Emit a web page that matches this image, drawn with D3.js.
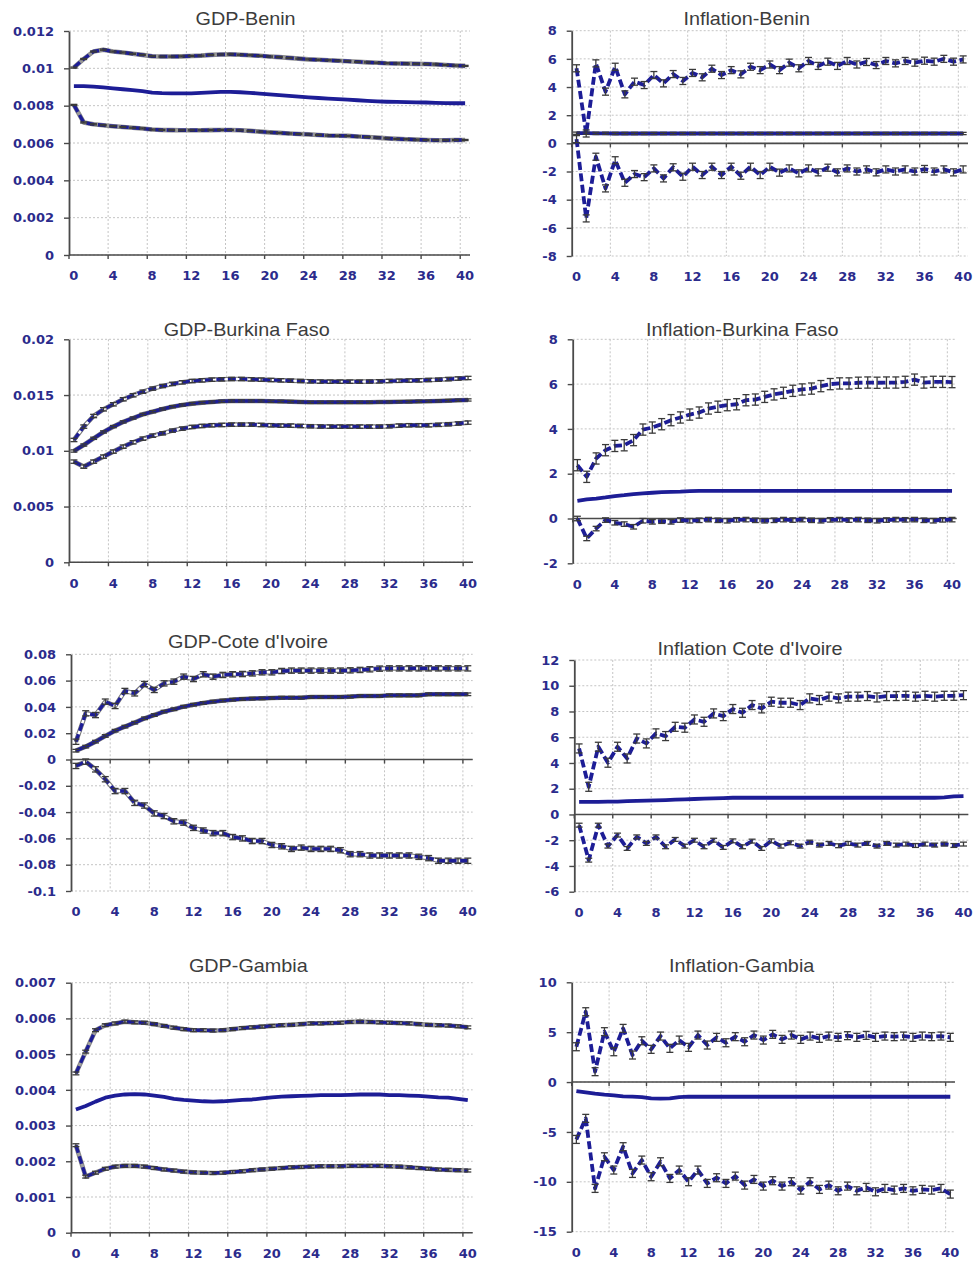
<!DOCTYPE html>
<html>
<head>
<meta charset="utf-8">
<script src="https://cdn.jsdelivr.net/npm/d3@7"></script>
<style>
  body { margin: 0; background: #ffffff; }
  svg { display: block; }
</style>
</head>
<body>
<svg id="chart" width="979" height="1262"></svg>
<script>
// Impulse responses over a 40-period horizon: upper band, point response, lower band.
const horizons = d3.range(0, 41);
const xTickLabels = [0, 4, 8, 12, 16, 20, 24, 28, 32, 36, 40];

// ---- GDP - Benin ----
const gdpBeninTicks = [0, 0.002, 0.004, 0.006, 0.008, 0.01, 0.012];
const gdpBeninUpper = [0.01004,0.01050,0.01090,0.01100,0.01090,0.01085,0.01078,0.01072,0.01065,0.01063,
  0.01063,0.01064,0.01066,0.01068,0.01072,0.01074,0.01075,0.01073,0.01070,0.01067,
  0.01063,0.01060,0.01056,0.01052,0.01048,0.01046,0.01043,0.01041,0.01038,0.01035,
  0.01032,0.01030,0.01027,0.01026,0.01025,0.01024,0.01023,0.01021,0.01018,0.01015,0.01013];
const gdpBeninMid = [0.00905,0.00905,0.00902,0.00898,0.00893,0.00888,0.00883,0.00878,0.00870,0.00867,
  0.00866,0.00866,0.00866,0.00868,0.00871,0.00874,0.00874,0.00872,0.00869,0.00865,
  0.00860,0.00856,0.00852,0.00848,0.00844,0.00841,0.00838,0.00835,0.00832,0.00829,
  0.00826,0.00823,0.00821,0.00820,0.00819,0.00818,0.00817,0.00815,0.00814,0.00813,0.00813];
const gdpBeninLower = [0.00804,0.00710,0.00700,0.00695,0.00690,0.00686,0.00682,0.00678,0.00672,0.00670,
  0.00669,0.00668,0.00668,0.00668,0.00669,0.00670,0.00670,0.00668,0.00665,0.00661,
  0.00657,0.00654,0.00651,0.00648,0.00646,0.00643,0.00640,0.00639,0.00638,0.00635,
  0.00632,0.00629,0.00625,0.00622,0.00620,0.00618,0.00616,0.00615,0.00615,0.00616,0.00616];
const gdpBeninErr = [0.00003, 0, 0.00003];

// ---- Inflation - Benin ----
const infBeninTicks = [-8, -6, -4, -2, 0, 2, 4, 6, 8];
const infBeninUpper = [5.33,0.7,5.68,3.67,5.44,3.48,4.38,4.14,4.85,4.26,
  4.92,4.43,5.0,4.69,5.3,4.85,5.2,4.9,5.44,5.2,
  5.6,5.2,5.73,5.33,5.85,5.5,5.8,5.5,5.85,5.6,
  5.78,5.56,5.85,5.68,5.85,5.73,5.87,5.8,6.0,5.8,5.96];
const infBeninMid = [0.72,0.72,0.71,0.71,0.70,0.70,0.70,0.70,0.70,0.70,
  0.70,0.70,0.70,0.70,0.70,0.70,0.70,0.70,0.70,0.70,
  0.70,0.70,0.70,0.70,0.70,0.70,0.70,0.70,0.70,0.70,
  0.70,0.70,0.70,0.70,0.70,0.70,0.70,0.70,0.70,0.70,0.70];
const infBeninLower = [0.3,-5.33,-0.95,-3.2,-1.2,-2.8,-2.18,-2.4,-1.78,-2.49,
  -1.7,-2.37,-1.66,-2.25,-1.66,-2.25,-1.66,-2.3,-1.66,-2.25,
  -1.66,-2.08,-1.78,-2.13,-1.78,-2.06,-1.73,-2.06,-1.78,-2.0,
  -1.85,-2.06,-1.85,-2.0,-1.85,-2.0,-1.82,-2.0,-1.85,-2.06,-1.85];
const infBeninErr = [0.25, 0.08, 0.25];

// ---- GDP - Burkina Faso ----
const gdpBurkinaTicks = [0, 0.005, 0.01, 0.015, 0.02];
const gdpBurkinaUpper = [0.01097,0.01217,0.01312,0.01372,0.01417,0.01462,0.01498,0.01530,0.01558,0.01581,
  0.01600,0.01614,0.01626,0.01632,0.01638,0.01641,0.01644,0.01644,0.01641,0.01638,
  0.01635,0.01632,0.01629,0.01626,0.01623,0.01621,0.01620,0.01620,0.01620,0.01620,
  0.01621,0.01623,0.01626,0.01628,0.01630,0.01632,0.01635,0.01638,0.01643,0.01648,0.01653];
const gdpBurkinaMid = [0.00998,0.01052,0.01112,0.01169,0.01217,0.01259,0.01294,0.01327,0.01351,0.01375,
  0.01396,0.01411,0.01423,0.01432,0.01438,0.01444,0.01447,0.01447,0.01447,0.01447,
  0.01444,0.01443,0.01441,0.01438,0.01435,0.01435,0.01435,0.01435,0.01435,0.01435,
  0.01435,0.01437,0.01438,0.01440,0.01441,0.01443,0.01444,0.01447,0.01450,0.01453,0.01456];
const gdpBurkinaLower = [0.00903,0.00858,0.00903,0.00948,0.00993,0.01037,0.01076,0.01109,0.01136,0.01157,
  0.01181,0.01199,0.01214,0.01223,0.01229,0.01232,0.01235,0.01235,0.01235,0.01232,
  0.01229,0.01226,0.01226,0.01223,0.01220,0.01218,0.01217,0.01217,0.01217,0.01217,
  0.01217,0.01217,0.01220,0.01226,0.01229,0.01229,0.01229,0.01233,0.01238,0.01245,0.01253];
const gdpBurkinaErr = [0.00015, 0.0001, 0.00015];

// ---- Inflation - Burkina Faso ----
const infBurkinaTicks = [-2, 0, 2, 4, 6, 8];
const infBurkinaUpper = [2.38,1.86,2.68,3.05,3.24,3.27,3.5,3.97,4.06,4.21,
  4.39,4.51,4.64,4.73,4.91,4.99,5.06,5.1,5.28,5.31,
  5.43,5.54,5.61,5.7,5.76,5.8,5.91,6.0,6.03,6.03,
  6.06,6.07,6.06,6.07,6.07,6.1,6.2,6.07,6.1,6.1,6.09];
const infBurkinaMid = [0.79,0.85,0.89,0.94,1.0,1.04,1.09,1.12,1.15,1.18,
  1.19,1.2,1.22,1.23,1.23,1.23,1.23,1.23,1.23,1.23,
  1.23,1.23,1.23,1.23,1.23,1.23,1.23,1.23,1.23,1.23,
  1.23,1.23,1.23,1.23,1.23,1.23,1.23,1.23,1.23,1.23,1.23];
const infBurkinaLower = [0.0,-0.89,-0.45,-0.07,-0.19,-0.25,-0.37,-0.1,-0.15,-0.12,
  -0.15,-0.07,-0.1,-0.08,-0.05,-0.08,-0.1,-0.06,-0.05,-0.08,
  -0.1,-0.08,-0.05,-0.07,-0.05,-0.08,-0.1,-0.06,-0.05,-0.07,
  -0.05,-0.08,-0.1,-0.07,-0.05,-0.06,-0.05,-0.08,-0.1,-0.06,-0.05];
const infBurkinaErr = [0.25, 0, 0.1];

// ---- GDP - Cote d'Ivoire ----
const gdpCoteTicks = [-0.1, -0.08, -0.06, -0.04, -0.02, 0, 0.02, 0.04, 0.06, 0.08];
const gdpCoteUpper = [0.0135,0.0351,0.0338,0.0440,0.0407,0.0521,0.0503,0.0574,0.0529,0.0579,
  0.0592,0.0630,0.0612,0.0648,0.0630,0.0643,0.0648,0.0650,0.0655,0.0663,
  0.0663,0.0673,0.0676,0.0676,0.0676,0.0676,0.0676,0.0676,0.0678,0.0681,
  0.0686,0.0691,0.0693,0.0693,0.0693,0.0693,0.0693,0.0693,0.0693,0.0693,0.0693];
const gdpCoteMid = [0.0067,0.0098,0.0136,0.0179,0.0219,0.0250,0.0280,0.0313,0.0338,0.0364,
  0.0382,0.0402,0.0417,0.0430,0.0440,0.0448,0.0455,0.0460,0.0463,0.0465,
  0.0468,0.0470,0.0470,0.0470,0.0475,0.0475,0.0475,0.0475,0.0478,0.0483,
  0.0483,0.0483,0.0488,0.0488,0.0488,0.0488,0.0496,0.0496,0.0496,0.0496,0.0496];
const gdpCoteLower = [-0.0049,-0.0016,-0.0075,-0.015,-0.024,-0.024,-0.033,-0.035,-0.041,-0.043,
  -0.047,-0.048,-0.052,-0.054,-0.056,-0.056,-0.059,-0.060,-0.062,-0.062,
  -0.065,-0.066,-0.068,-0.067,-0.068,-0.068,-0.068,-0.069,-0.072,-0.072,
  -0.073,-0.073,-0.073,-0.073,-0.073,-0.074,-0.075,-0.077,-0.077,-0.077,-0.077];
const gdpCoteErr = [0.002, 0.001, 0.002];

// ---- Inflation - Cote d'Ivoire ----
const infCoteTicks = [-6, -4, -2, 0, 2, 4, 6, 8, 10, 12];
const infCoteUpper = [5.13,2.15,5.26,4.02,5.26,4.35,5.9,5.52,6.3,6.09,
  6.81,6.74,7.38,7.2,7.85,7.64,8.19,7.9,8.5,8.24,
  8.76,8.68,8.68,8.5,9.02,8.89,9.15,9.02,9.15,9.15,
  9.2,9.09,9.2,9.2,9.22,9.15,9.22,9.15,9.22,9.22,9.27];
const infCoteMid = [0.98,0.98,0.98,0.99,1.0,1.03,1.05,1.07,1.1,1.12,
  1.15,1.17,1.2,1.23,1.25,1.27,1.3,1.3,1.3,1.3,
  1.3,1.3,1.3,1.3,1.3,1.3,1.3,1.3,1.3,1.3,
  1.3,1.3,1.3,1.3,1.3,1.3,1.3,1.3,1.32,1.4,1.42];
const infCoteLower = [-0.83,-3.55,-0.83,-2.46,-1.6,-2.64,-1.74,-2.25,-1.74,-2.51,
  -1.94,-2.46,-2.0,-2.51,-2.0,-2.56,-2.05,-2.51,-2.07,-2.64,
  -2.05,-2.46,-2.2,-2.46,-2.15,-2.38,-2.25,-2.43,-2.25,-2.38,
  -2.25,-2.46,-2.25,-2.38,-2.3,-2.41,-2.3,-2.38,-2.3,-2.41,-2.3];
const infCoteErr = [0.35, 0, 0.15];

// ---- GDP - Gambia ----
const gdpGambiaTicks = [0, 0.001, 0.002, 0.003, 0.004, 0.005, 0.006, 0.007];
const gdpGambiaUpper = [0.00446,0.00507,0.00567,0.00581,0.00586,0.00591,0.00589,0.00588,0.00584,0.00579,
  0.00574,0.00570,0.00567,0.00567,0.00566,0.00567,0.00570,0.00573,0.00575,0.00577,
  0.00579,0.00581,0.00582,0.00584,0.00586,0.00586,0.00587,0.00588,0.00590,0.00591,
  0.00590,0.00589,0.00588,0.00587,0.00586,0.00584,0.00582,0.00581,0.00580,0.00578,0.00575];
const gdpGambiaMid = [0.00345,0.00355,0.00367,0.00378,0.00384,0.00387,0.00388,0.00387,0.00384,0.00380,
  0.00375,0.00372,0.00370,0.00368,0.00367,0.00368,0.00370,0.00372,0.00373,0.00376,
  0.00379,0.00381,0.00382,0.00383,0.00384,0.00385,0.00385,0.00385,0.00386,0.00387,
  0.00387,0.00387,0.00385,0.00385,0.00384,0.00383,0.00381,0.00379,0.00378,0.00375,0.00371];
const gdpGambiaLower = [0.00245,0.00157,0.00168,0.00179,0.00185,0.00187,0.00187,0.00185,0.00181,0.00177,
  0.00174,0.00171,0.00169,0.00168,0.00167,0.00168,0.00170,0.00172,0.00175,0.00177,
  0.00179,0.00181,0.00183,0.00184,0.00185,0.00186,0.00186,0.00186,0.00187,0.00187,
  0.00187,0.00187,0.00186,0.00185,0.00183,0.00181,0.00179,0.00177,0.00176,0.00175,0.00174];
const gdpGambiaErr = [0.00004, 0, 0.00004];

// ---- Inflation - Gambia ----
const infGambiaTicks = [-15, -10, -5, 0, 5, 10];
const infGambiaUpper = [3.54,7.05,1.04,5.05,3.04,5.38,2.71,4.14,3.28,4.61,
  3.38,4.21,3.48,4.71,3.71,4.48,3.94,4.55,4.04,4.71,
  4.21,4.78,4.28,4.71,4.28,4.61,4.38,4.61,4.48,4.65,
  4.48,4.68,4.48,4.61,4.55,4.61,4.48,4.61,4.55,4.61,4.48];
const infGambiaMid = [-0.9,-1.04,-1.17,-1.27,-1.34,-1.44,-1.47,-1.5,-1.64,-1.67,
  -1.64,-1.5,-1.47,-1.47,-1.47,-1.47,-1.47,-1.47,-1.47,-1.47,
  -1.47,-1.47,-1.47,-1.47,-1.47,-1.47,-1.47,-1.47,-1.47,-1.47,
  -1.47,-1.47,-1.47,-1.47,-1.47,-1.47,-1.47,-1.47,-1.47,-1.47,-1.47];
const infGambiaLower = [-5.75,-3.64,-10.66,-7.49,-8.82,-6.48,-9.16,-7.82,-9.49,-7.99,
  -9.66,-8.82,-9.99,-8.82,-10.16,-9.59,-10.16,-9.43,-10.33,-9.76,
  -10.43,-9.89,-10.43,-9.99,-10.83,-9.99,-10.76,-10.33,-10.9,-10.43,
  -10.9,-10.56,-11.0,-10.66,-10.83,-10.66,-10.9,-10.76,-10.83,-10.66,-11.23];
const infGambiaErr = [0.4, 0, 0.4];

// Panel layout: plot box, title anchor, and line style
// outline: casing colour under the band lines (null = none); gap: colour between dashes;
// midOutline: whether the point-response line also gets the casing
const panels = [
  { title: "GDP-Benin", ticks: gdpBeninTicks, series: [gdpBeninUpper, gdpBeninMid, gdpBeninLower], err: gdpBeninErr,
    x0: 69, x1: 470, top: 31, bottom: 255, tx: 245.6, ty: 25, outline: "#8a8a8a", gap: "#9a9a9a", midOutline: false },
  { title: "Inflation-Benin", ticks: infBeninTicks, series: [infBeninUpper, infBeninMid, infBeninLower], err: infBeninErr,
    x0: 571.7, x1: 968, top: 30.7, bottom: 256, tx: 746.7, ty: 24.5, outline: null, gap: null, midOutline: false },
  { title: "GDP-Burkina Faso", ticks: gdpBurkinaTicks, series: [gdpBurkinaUpper, gdpBurkinaMid, gdpBurkinaLower], err: gdpBurkinaErr,
    x0: 69, x1: 473, top: 339.3, bottom: 562.3, tx: 246.7, ty: 335.5, outline: "#7a7a7a", gap: "#ffffff", midOutline: true },
  { title: "Inflation-Burkina Faso", ticks: infBurkinaTicks, series: [infBurkinaUpper, infBurkinaMid, infBurkinaLower], err: infBurkinaErr,
    x0: 572.7, x1: 956.7, top: 339.3, bottom: 563.3, tx: 742.3, ty: 335.5, outline: null, gap: null, midOutline: false },
  { title: "GDP-Cote d'Ivoire", ticks: gdpCoteTicks, series: [gdpCoteUpper, gdpCoteMid, gdpCoteLower], err: gdpCoteErr,
    x0: 71, x1: 472.7, top: 654.3, bottom: 891, tx: 248, ty: 648, outline: "#7a7a7a", gap: "#ffffff", midOutline: true },
  { title: "Inflation Cote d'Ivoire", ticks: infCoteTicks, series: [infCoteUpper, infCoteMid, infCoteLower], err: infCoteErr,
    x0: 574.3, x1: 968.3, top: 660, bottom: 891.7, tx: 750, ty: 655, outline: null, gap: null, midOutline: false },
  { title: "GDP-Gambia", ticks: gdpGambiaTicks, series: [gdpGambiaUpper, gdpGambiaMid, gdpGambiaLower], err: gdpGambiaErr,
    x0: 71, x1: 472.7, top: 982.7, bottom: 1232.7, tx: 248.3, ty: 972, outline: "#8a8a8a", gap: "#a0a0a0", midOutline: false },
  { title: "Inflation-Gambia", ticks: infGambiaTicks, series: [infGambiaUpper, infGambiaMid, infGambiaLower], err: infGambiaErr,
    x0: 571.7, x1: 955, top: 982.3, bottom: 1231.7, tx: 741.7, ty: 972, outline: null, gap: null, midOutline: false }
];

const NAVY = "#1d1d96";
const LABEL = "#2b2b8c";
const svg = d3.select("#chart");

panels.forEach(p => {
  const g = svg.append("g");
  const ticks = p.ticks;
  const y = d3.scaleLinear().domain([ticks[0], ticks[ticks.length - 1]]).range([p.bottom, p.top]);
  const x = d3.scaleBand().domain(horizons).range([p.x0, p.x1]).paddingInner(0).paddingOuter(0);
  const bw = x.bandwidth();
  const cx = t => x(t) + bw / 2;

  // dotted grid
  g.append("g").selectAll("line").data(ticks).join("line")
    .attr("x1", p.x0).attr("x2", p.x1)
    .attr("y1", d => y(d)).attr("y2", d => y(d))
    .attr("stroke", "#c4c4c4").attr("stroke-width", 1).attr("stroke-dasharray", "2,2");
  g.append("g").selectAll("line").data(xTickLabels.filter(k => k > 0)).join("line")
    .attr("x1", d => x(d)).attr("x2", d => x(d))
    .attr("y1", p.top).attr("y2", p.bottom)
    .attr("stroke", "#c4c4c4").attr("stroke-width", 1).attr("stroke-dasharray", "2,2");

  // category axis line at zero with tick marks
  const zeroY = y(0);
  g.append("line").attr("x1", p.x0).attr("x2", p.x1).attr("y1", zeroY).attr("y2", zeroY)
    .attr("stroke", "#4a4a4a").attr("stroke-width", 1.6);
  g.append("g").selectAll("line").data(xTickLabels).join("line")
    .attr("x1", d => x(d)).attr("x2", d => x(d))
    .attr("y1", zeroY).attr("y2", zeroY + 4)
    .attr("stroke", "#4a4a4a").attr("stroke-width", 1.4);

  // category labels along the bottom of the plot
  const xAxis = g.append("g").attr("transform", `translate(0,${p.bottom})`)
    .call(d3.axisBottom(x).tickValues(xTickLabels).tickSize(0).tickPadding(16));
  xAxis.select(".domain").remove();
  xAxis.selectAll("text")
    .attr("font-family", "'DejaVu Sans', Verdana, sans-serif")
    .attr("font-weight", "bold").attr("font-size", 13).attr("fill", LABEL);

  // value axis
  const yAxis = g.append("g").attr("transform", `translate(${p.x0},0)`)
    .call(d3.axisLeft(y).tickValues(ticks).tickSize(5).tickSizeOuter(0).tickPadding(10)
      .tickFormat(d => String(d)));
  yAxis.select(".domain").attr("stroke", "#4a4a4a").attr("stroke-width", 1.8);
  yAxis.selectAll(".tick line").attr("stroke", "#4a4a4a").attr("stroke-width", 1.4);
  yAxis.selectAll("text")
    .attr("font-family", "'DejaVu Sans', Verdana, sans-serif")
    .attr("font-weight", "bold").attr("font-size", 13).attr("fill", LABEL);

  // response lines
  const line = d3.line().x((d, i) => cx(horizons[i])).y(d => y(d));
  p.series.forEach((s, si) => {
    const dashed = si !== 1;
    const cased = p.outline && (dashed || p.midOutline);
    if (cased) {
      g.append("path").attr("d", line(s)).attr("fill", "none")
        .attr("stroke", p.outline).attr("stroke-width", 4.6).attr("stroke-linejoin", "round");
      if (dashed) {
        g.append("path").attr("d", line(s)).attr("fill", "none")
          .attr("stroke", p.gap).attr("stroke-width", 2.4).attr("stroke-linejoin", "round");
      }
    }
    g.append("path").attr("d", line(s)).attr("fill", "none")
      .attr("stroke", NAVY).attr("stroke-width", cased ? 3.4 : 3.8)
      .attr("stroke-dasharray", dashed ? "8,3.5" : null)
      .attr("stroke-linejoin", "round");
  });

  // error bars on each horizon
  p.series.forEach((s, si) => {
    const e = p.err[si];
    if (!e) return;
    const eg = g.append("g").attr("stroke", "#3a3a3a").attr("stroke-width", 1.3);
    eg.selectAll("line.v").data(s).join("line").attr("class", "v")
      .attr("x1", (d, i) => cx(horizons[i])).attr("x2", (d, i) => cx(horizons[i]))
      .attr("y1", d => y(d - e)).attr("y2", d => y(d + e));
    eg.selectAll("line.t").data(s).join("line").attr("class", "t")
      .attr("x1", (d, i) => cx(horizons[i]) - 3.5).attr("x2", (d, i) => cx(horizons[i]) + 3.5)
      .attr("y1", d => y(d + e)).attr("y2", d => y(d + e));
    eg.selectAll("line.b").data(s).join("line").attr("class", "b")
      .attr("x1", (d, i) => cx(horizons[i]) - 3.5).attr("x2", (d, i) => cx(horizons[i]) + 3.5)
      .attr("y1", d => y(d - e)).attr("y2", d => y(d - e));
  });

  // panel title
  g.append("text")
    .attr("transform", `translate(${p.tx},${p.ty}) scale(1.1,1)`)
    .attr("text-anchor", "middle")
    .attr("font-family", "'Liberation Sans', Arial, sans-serif")
    .attr("font-size", 18).attr("fill", "#3c3c3c")
    .text(p.title);
});
</script>
</body>
</html>
